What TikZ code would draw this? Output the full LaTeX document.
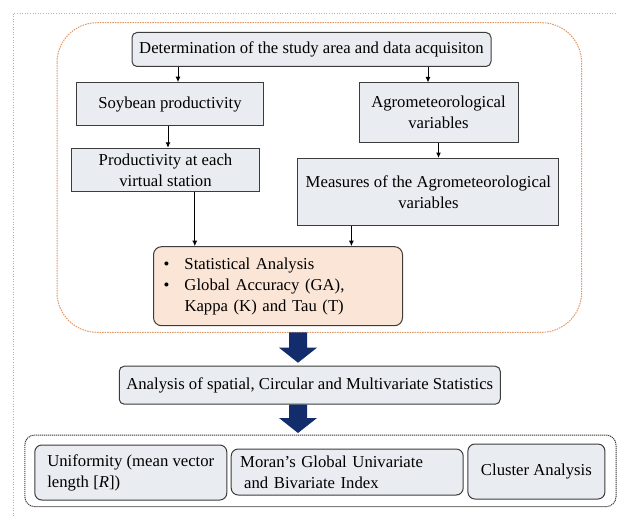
\documentclass[tikz,border=0pt]{standalone}
\usepackage{fontspec}
\setmainfont{Liberation Serif}
\usetikzlibrary{calc,arrows.meta}
\definecolor{boxgrey}{RGB}{233,236,241}
\definecolor{peach}{RGB}{251,229,214}
\definecolor{rust}{RGB}{226,150,98}
\definecolor{navy}{RGB}{18,44,108}
\definecolor{edge}{RGB}{60,60,60}
\tikzset{
	plainbox/.style={draw=edge, line width=1pt, fill=boxgrey, align=center, inner sep=0pt},
	roundbox/.style={plainbox, rounded corners=5pt},
	arr/.style={-{Latex[length=5.5pt,width=5pt]}, line width=1pt, black},
}
\def\blockarrow(#1)(#2){\fill[navy] ($(#1)+(-9,0)$) -- ($(#2)+(-9,-15)$) -- ($(#2)+(-19,-15)$) -- (#2) -- ($(#2)+(19,-15)$) -- ($(#2)+(9,-15)$) -- ($(#1)+(9,0)$) -- cycle;}

\begin{document}
\begin{tikzpicture}[x=1pt, y=-1pt, font=\fontsize{16.7}{21}\selectfont]
	%%%%% START %%%%%
	\useasboundingbox (0,0) rectangle (617,516);
	
	% frames
	\draw[gray!60, dotted, line width=0.6pt] (13,516) -- (13,13) -- (617,13);
	\draw[rust, line width=1pt, dash pattern=on 1.5pt off 1pt, rounded corners=40pt] (57,22.7) rectangle (581.6,332.3);
	\draw[edge, line width=1pt, dash pattern=on 1.2pt off 0.8pt, rounded corners=10pt] (24.8,435) rectangle (616,506.7);
	
	% study area and data
	\node[roundbox, minimum width=359, minimum height=34] (top) at (311.5,49.5) {Determination of the study area and data acquisiton};
	\node[plainbox, minimum width=187, minimum height=43] (soy) at (170,104.2) {Soybean productivity};
	\node[plainbox, minimum width=159, minimum height=59] (agro) at (438.5,112.5) {Agrometeorological\\variables};
	\node[plainbox, minimum width=188, minimum height=43] (prod) at (165.5,169.8) {Productivity at each\\virtual station};
	\node[plainbox, minimum width=261, minimum height=67] (meas) at (428.4,192) {Measures of the Agrometeorological\\variables};
	\node[roundbox, fill=peach, rounded corners=8pt, minimum width=249, minimum height=79, text width=229, align=left] (stat) at (278,286.2)
		{\begin{tabular}{@{}p{21pt}@{}l@{}}\textbullet&Statistical Analysis\\\textbullet&Global Accuracy (GA),\\&Kappa (K) and Tau (T)\end{tabular}};
	
	\draw[arr] ($(top.south -| soy.north)+(8,0)$) -- ($(soy.north)+(8,0)$);
	\draw[arr] ($(top.south -| agro.north)+(-10.5,0)$) -- ($(agro.north)+(-10.5,0)$);
	\draw[arr] ($(soy.south)+(-2,0)$) -- ($(soy.south |- prod.north)+(-2,0)$);
	\draw[arr] (agro.south) -- (agro.south |- meas.north);
	\draw[arr] ($(prod.south)+(29.3,0)$) -- ($(prod.south |- stat.north)+(29.3,0)$);
	\draw[arr] ($(meas.south)+(-77,0)$) -- ($(meas.south |- stat.north)+(-77,0)$);
	
	% statistics
	\node[roundbox, minimum width=381, minimum height=38] (anal) at (309.75,385.2) {Analysis of spatial, Circular and Multivariate Statistics};
	\node[roundbox, rounded corners=7pt, minimum width=192, minimum height=55, align=left] (unif) at (130.8,472.5) {Uniformity (mean vector\\length [\textit{R}])};
	\node[roundbox, rounded corners=7pt, minimum width=232, minimum height=46, text width=214, align=left] (moran) at (347.2,472) {Moran’s Global Univariate\\\hspace{4pt}and Bivariate Index};
	\node[roundbox, rounded corners=7pt, minimum width=137, minimum height=55] (clus) at (536.4,471.5) {Cluster Analysis};
	
	\coordinate (grpbot) at (298,332.3);
	\coordinate (tip1) at ($(grpbot |- anal.north)+(0,-3)$);
	\coordinate (outtop) at (298,435);
	\blockarrow(grpbot)(tip1)
	\blockarrow(anal.south -| grpbot)(298,433)
	
	%%%%% END %%%%%
\end{tikzpicture}
\end{document}
